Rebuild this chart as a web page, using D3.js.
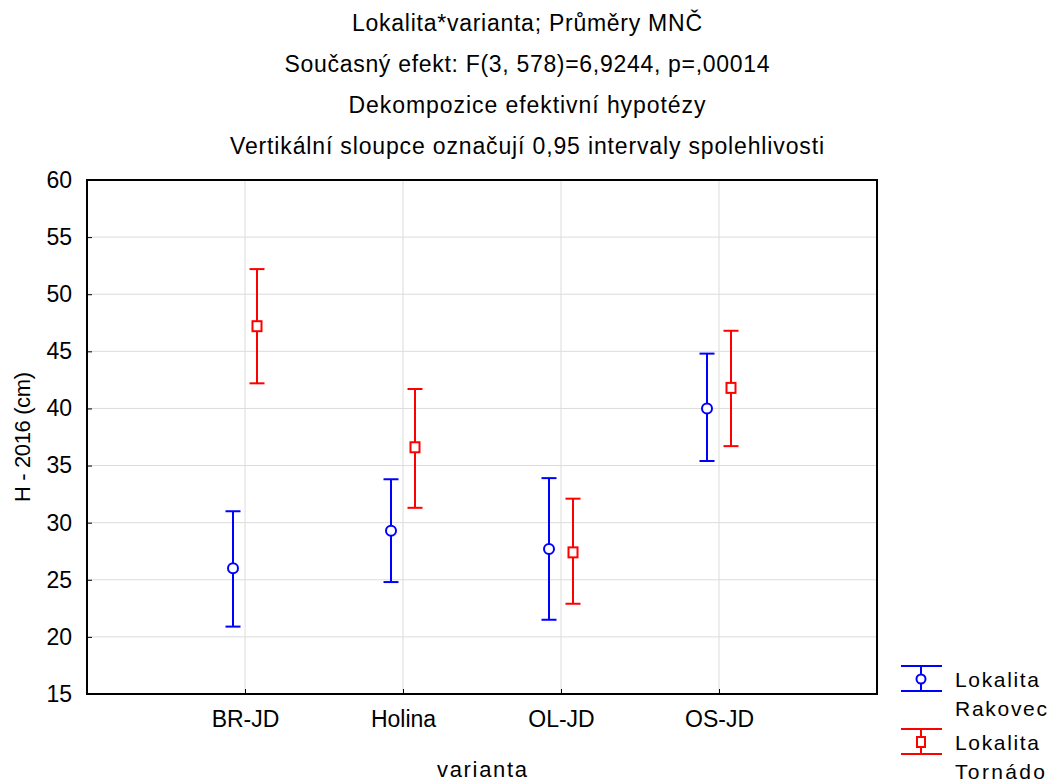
<!DOCTYPE html>
<html>
<head>
<meta charset="utf-8">
<script src="https://cdn.jsdelivr.net/npm/d3@7"></script>
<style>
  body { margin: 0; background: #fff; }
  text { font-family: "Liberation Sans", Arial, sans-serif; fill: #000; }
</style>
</head>
<body>
<div class="c-chart"></div>
<script>
var categories = ["BR-JD", "Holina", "OL-JD", "OS-JD"];
var yTicks = [15, 20, 25, 30, 35, 40, 45, 50, 55, 60];

// Lokalita Rakovec
var rakovecMean = [26.0, 29.3, 27.7, 40.0];
var rakovecLow = [20.9, 24.8, 21.5, 35.4];
var rakovecHigh = [31.0, 33.8, 33.9, 44.8];

// Lokalita Tornádo
var tornadoMean = [47.2, 36.6, 27.4, 41.8];
var tornadoLow = [42.2, 31.3, 22.9, 36.7];
var tornadoHigh = [52.2, 41.7, 32.1, 46.8];

var titleLines = [
    "Lokalita*varianta; Průměry MNČ",
    "Současný efekt: F(3, 578)=6,9244, p=,00014",
    "Dekompozice efektivní hypotézy",
    "Vertikální sloupce označují 0,95 intervaly spolehlivosti"
];
var titleWidths = [350, 485, 357, 594];

var margin = { top: 180, right: 173, bottom: 89, left: 87 };
var W = 1050, H = 783;
var width = W - margin.left - margin.right;
var height = H - margin.top - margin.bottom;

var series = [
    { name: ["Lokalita", "Rakovec"], widths: [84, 92], color: "#0000ff", shape: "circle", offset: -12,
      mean: rakovecMean, low: rakovecLow, high: rakovecHigh },
    { name: ["Lokalita", "Tornádo"], widths: [84, 90], color: "#ff0000", shape: "square", offset: 12,
      mean: tornadoMean, low: tornadoLow, high: tornadoHigh }
];

var svg = d3.select(".c-chart").append("svg")
    .attr("width", W)
    .attr("height", H);

var g = svg.append("g")
    .attr("transform", "translate(" + margin.left + "," + margin.top + ")");

var xScale = d3.scalePoint().domain(categories).range([0, width]).padding(1);
var yScale = d3.scaleLinear().domain([15, 60]).range([height, 0]);

// grid
g.append("g").attr("class", "grid-y")
    .selectAll("line").data(yTicks.slice(1, -1)).enter().append("line")
    .attr("x1", 0).attr("x2", width)
    .attr("y1", function (d) { return yScale(d); })
    .attr("y2", function (d) { return yScale(d); })
    .attr("stroke", "#dcdcdc").attr("stroke-width", 1);

g.append("g").attr("class", "grid-x")
    .selectAll("line").data(categories).enter().append("line")
    .attr("x1", function (d) { return xScale(d); })
    .attr("x2", function (d) { return xScale(d); })
    .attr("y1", 0).attr("y2", height)
    .attr("stroke", "#dcdcdc").attr("stroke-width", 1);

// axes
var yAxis = g.append("g").attr("class", "y-axis")
    .call(d3.axisLeft(yScale).tickValues(yTicks).tickSize(-5).tickPadding(15));
var xAxis = g.append("g").attr("class", "x-axis")
    .attr("transform", "translate(0," + height + ")")
    .call(d3.axisBottom(xScale).tickSize(-5).tickPadding(17));

[yAxis, xAxis].forEach(function (ax) {
    ax.select(".domain").remove();
    ax.selectAll("line").attr("stroke", "#000").attr("stroke-width", 1);
    ax.selectAll("text").style("font-size", "23px")
        .style("font-family", "'Liberation Sans', Arial, sans-serif");
});

g.append("rect")
    .attr("x", 0).attr("y", 0)
    .attr("width", width).attr("height", height)
    .attr("fill", "none").attr("stroke", "#000").attr("stroke-width", 2);

// error bars
var capW = 7.5;
series.forEach(function (s) {
    var grp = g.append("g").attr("stroke", s.color).attr("stroke-width", 2).attr("fill", "none");
    categories.forEach(function (c, i) {
        var cx = xScale(c) + s.offset;
        grp.append("line").attr("x1", cx).attr("x2", cx)
            .attr("y1", yScale(s.low[i])).attr("y2", yScale(s.high[i]));
        grp.append("line").attr("x1", cx - capW).attr("x2", cx + capW)
            .attr("y1", yScale(s.high[i])).attr("y2", yScale(s.high[i]));
        grp.append("line").attr("x1", cx - capW).attr("x2", cx + capW)
            .attr("y1", yScale(s.low[i])).attr("y2", yScale(s.low[i]));
        if (s.shape === "circle") {
            grp.append("circle").attr("cx", cx).attr("cy", yScale(s.mean[i])).attr("r", 5)
                .attr("fill", "#fff");
        } else {
            grp.append("rect").attr("x", cx - 4.5).attr("y", yScale(s.mean[i]) - 5)
                .attr("width", 9).attr("height", 10).attr("fill", "#fff");
        }
    });
});

// titles
titleLines.forEach(function (t, i) {
    svg.append("text")
        .attr("x", 527).attr("y", 31 + i * 41)
        .attr("text-anchor", "middle")
        .attr("textLength", titleWidths[i])
        .attr("lengthAdjust", "spacing")
        .style("font-size", "23px")
        .text(t);
});

// axis labels
svg.append("text")
    .attr("transform", "translate(30," + (margin.top + height / 2) + ") rotate(-90)")
    .attr("text-anchor", "middle")
    .attr("textLength", 130)
    .style("font-size", "22px")
    .text("H - 2016 (cm)");

svg.append("text")
    .attr("x", 482).attr("y", 777)
    .attr("text-anchor", "middle")
    .attr("textLength", 90)
    .style("font-size", "22px")
    .text("varianta");

// legend
series.forEach(function (s, i) {
    var top = 666 + i * 63;
    var lg = svg.append("g").attr("stroke", s.color).attr("stroke-width", 2).attr("fill", "none");
    var mid = 921;
    lg.append("line").attr("x1", 901).attr("x2", 942).attr("y1", top).attr("y2", top);
    lg.append("line").attr("x1", 901).attr("x2", 942).attr("y1", top + 25).attr("y2", top + 25);
    lg.append("line").attr("x1", mid).attr("x2", mid).attr("y1", top).attr("y2", top + 25);
    if (s.shape === "circle") {
        lg.append("circle").attr("cx", mid).attr("cy", top + 13).attr("r", 4.5).attr("fill", "#fff");
    } else {
        lg.append("rect").attr("x", mid - 4).attr("y", top + 8).attr("width", 8).attr("height", 10)
            .attr("fill", "#fff");
    }
    s.name.forEach(function (n, j) {
        svg.append("text")
            .attr("x", 955).attr("y", top + 21 + j * 29)
            .attr("textLength", s.widths[j])
            .style("font-size", "21px")
            .text(n);
    });
});
</script>
</body>
</html>
